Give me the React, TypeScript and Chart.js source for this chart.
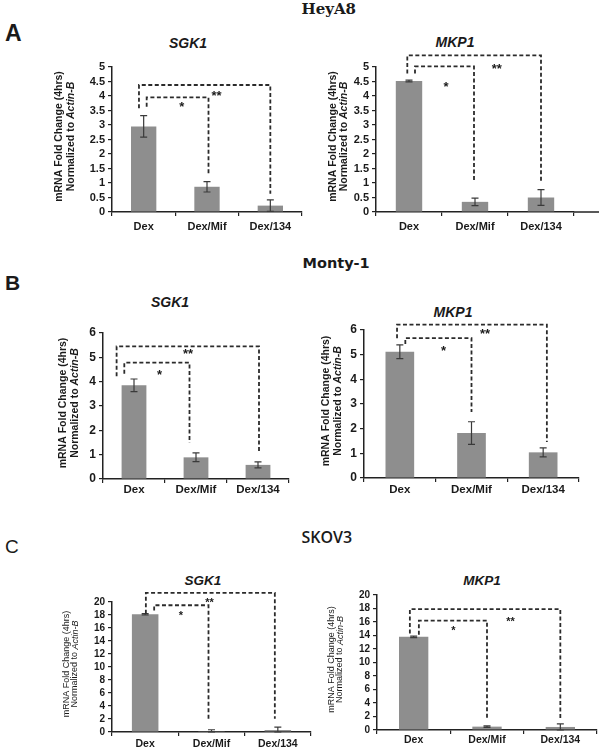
import React, { useEffect, useRef } from 'react';
import { Chart, registerables } from 'chart.js';

Chart.register(...registerables);
Chart.defaults.font.family = '"Liberation Sans", Arial, sans-serif';

// ---------- data ----------
const categories = ['Dex', 'Dex/Mif', 'Dex/134'];

const heyA8Sgk1Values = [2.95, 0.87, 0.22];
const heyA8Sgk1Errors = [0.37, 0.18, 0.2];
const heyA8Mkp1Values = [4.52, 0.35, 0.5];
const heyA8Mkp1Errors = [0.03, 0.13, 0.27];

const monty1Sgk1Values = [3.85, 0.89, 0.58];
const monty1Sgk1Errors = [0.26, 0.18, 0.12];
const monty1Mkp1Values = [5.12, 1.82, 1.04];
const monty1Mkp1Errors = [0.28, 0.46, 0.18];

const skov3Sgk1Values = [18.1, 0.05, 0.3];
const skov3Sgk1Errors = [0.1, 0.3, 0.45];
const skov3Mkp1Values = [13.8, 0.5, 0.45];
const skov3Mkp1Errors = [0.12, 0.12, 0.45];

const heyA8YMax = 5;
const heyA8YStep = 0.5;
const monty1YMax = 6;
const monty1YStep = 1;
const skov3YMax = 20;
const skov3YStep = 2;

const yTitleLine1 = 'mRNA Fold Change (4hrs)';
const yTitleLine2a = 'Normalized to ';
const yTitleLine2b = 'Actin-B';

// significance brackets (data units): level, drop ends, label position
type Bracket = { from: number; to: number; level: number; leftEnd: number; rightEnd: number; label: string; labelX: number; labelY: number };

const heyA8Sgk1Brackets: Bracket[] = [
  { from: 0, to: 1, level: 3.95, leftEnd: 3.63, rightEnd: 1.32, label: '*', labelX: 0.6, labelY: 3.75 },
  { from: 0, to: 2, level: 4.38, leftEnd: 3.58, rightEnd: 0.63, label: '**', labelX: 1.15, labelY: 4.13 },
];
const heyA8Mkp1Brackets: Bracket[] = [
  { from: 0, to: 1, level: 5.02, leftEnd: 4.78, rightEnd: 1.03, label: '*', labelX: 0.56, labelY: 4.44 },
  { from: 0, to: 2, level: 5.4, leftEnd: 4.78, rightEnd: 1.03, label: '**', labelX: 1.33, labelY: 5.06 },
];
const monty1Sgk1Brackets: Bracket[] = [
  { from: 0, to: 1, level: 4.78, leftEnd: 4.33, rightEnd: 1.49, label: '*', labelX: 0.41, labelY: 4.4 },
  { from: 0, to: 2, level: 5.45, leftEnd: 4.22, rightEnd: 1.12, label: '**', labelX: 0.87, labelY: 5.29 },
];
const monty1Mkp1Brackets: Bracket[] = [
  { from: 0, to: 1, level: 5.67, leftEnd: 5.43, rightEnd: 2.68, label: '*', labelX: 0.61, labelY: 5.3 },
  { from: 0, to: 2, level: 6.22, leftEnd: 5.67, rightEnd: 1.46, label: '**', labelX: 1.19, labelY: 6.0 },
];
const skov3Sgk1Brackets: Bracket[] = [
  { from: 0, to: 1, level: 19.5, leftEnd: 18.7, rightEnd: 2.05, label: '*', labelX: 0.54, labelY: 18.3 },
  { from: 0, to: 2, level: 21.4, leftEnd: 18.2, rightEnd: 2.05, label: '**', labelX: 0.97, labelY: 20.3 },
];
const skov3Mkp1Brackets: Bracket[] = [
  { from: 0, to: 1, level: 16.2, leftEnd: 14.1, rightEnd: 1.73, label: '*', labelX: 0.54, labelY: 15.1 },
  { from: 0, to: 2, level: 17.9, leftEnd: 14.3, rightEnd: 1.73, label: '**', labelX: 1.32, labelY: 16.5 },
];

// ---------- styles / layout ----------
const BAR = '#8e8e8e';
const AXIS = '#222';
const TEXT = '#1a1a1a';
const DASH = '#2b2b2b';
const PAD_L = 75;
const PAD_T = 40;
const PAD_B = 25;

type Panel = {
  values: number[]; errors: number[]; yMax: number; yStep: number; brackets: Bracket[];
  box: { L: number; R: number; T: number; B: number };
  padR: number; tickSize: number; xSize: number; xPad: number;
  titleSize: number; titleWeight: string; titleOffsets: [number, number];
  starSize: number; bracketOffsets: [number, number][]; axisExtend: number;
};

const panels: Panel[] = [
  {
    values: heyA8Sgk1Values, errors: heyA8Sgk1Errors, yMax: heyA8YMax, yStep: heyA8YStep, brackets: heyA8Sgk1Brackets,
    box: { L: 112, R: 302, T: 67, B: 212 }, padR: 6, tickSize: 11, xSize: 11, xPad: 4,
    titleSize: 10.5, titleWeight: 'bold', titleOffsets: [-53, -41], starSize: 13,
    bracketOffsets: [[3, 1.5], [-4.7, 0]], axisExtend: 0,
  },
  {
    values: heyA8Mkp1Values, errors: heyA8Mkp1Errors, yMax: heyA8YMax, yStep: heyA8YStep, brackets: heyA8Mkp1Brackets,
    box: { L: 376, R: 574, T: 67, B: 212 }, padR: 28, tickSize: 11, xSize: 11, xPad: 4,
    titleSize: 10.5, titleWeight: 'bold', titleOffsets: [-43, -32], starSize: 13,
    bracketOffsets: [[6, -1], [-1.7, 0]], axisExtend: 25,
  },
  {
    values: monty1Sgk1Values, errors: monty1Sgk1Errors, yMax: monty1YMax, yStep: monty1YStep, brackets: monty1Sgk1Brackets,
    box: { L: 103, R: 289, T: 333, B: 479 }, padR: 6, tickSize: 12, xSize: 11.5, xPad: 0,
    titleSize: 10.5, titleWeight: 'bold', titleOffsets: [-40, -28], starSize: 13,
    bracketOffsets: [[-9.7, -6.5], [-17.4, 1]], axisExtend: 0,
  },
  {
    values: monty1Mkp1Values, errors: monty1Mkp1Errors, yMax: monty1YMax, yStep: monty1YStep, brackets: monty1Mkp1Brackets,
    box: { L: 364, R: 579, T: 330, B: 478 }, padR: 6, tickSize: 12, xSize: 11.5, xPad: 1,
    titleSize: 10.5, titleWeight: 'bold', titleOffsets: [-38, -26], starSize: 13,
    bracketOffsets: [[5.5, 0], [-2.8, 3.7]], axisExtend: 0,
  },
  {
    values: skov3Sgk1Values, errors: skov3Sgk1Errors, yMax: skov3YMax, yStep: skov3YStep, brackets: skov3Sgk1Brackets,
    box: { L: 112, R: 311, T: 602, B: 732 }, padR: 6, tickSize: 10, xSize: 10.5, xPad: 2,
    titleSize: 9, titleWeight: 'normal', titleOffsets: [-45, -37], starSize: 11,
    bracketOffsets: [[9, -3], [0.7, -3]], axisExtend: 0,
  },
  {
    values: skov3Mkp1Values, errors: skov3Mkp1Errors, yMax: skov3YMax, yStep: skov3YStep, brackets: skov3Mkp1Brackets,
    box: { L: 377, R: 597, T: 595, B: 730 }, padR: 6, tickSize: 10, xSize: 10.5, xPad: 0,
    titleSize: 9, titleWeight: 'normal', titleOffsets: [-45, -37], starSize: 11,
    bracketOffsets: [[5.2, 0], [-3.8, 0]], axisExtend: 0,
  },
];

const FONT = '"Liberation Sans", Arial, sans-serif';

function makeAnnotations(p: Panel) {
  return {
    id: 'figureAnnotations',
    afterDatasetsDraw(chart: any) {
      const { ctx, scales } = chart;
      const x = scales.x;
      const y = scales.y;
      ctx.save();
      ctx.strokeStyle = '#3a3a3a';
      ctx.lineWidth = 1.2;
      p.values.forEach((v, i) => {
        const cx = x.getPixelForValue(i);
        const top = y.getPixelForValue(v + p.errors[i]);
        const bot = y.getPixelForValue(Math.max(0, v - p.errors[i]));
        ctx.beginPath();
        ctx.moveTo(cx, top);
        ctx.lineTo(cx, bot);
        ctx.moveTo(cx - 3.5, top);
        ctx.lineTo(cx + 3.5, top);
        ctx.moveTo(cx - 3.5, bot);
        ctx.lineTo(cx + 3.5, bot);
        ctx.stroke();
      });
      ctx.restore();
    },
    afterDraw(chart: any) {
      const { ctx, scales, chartArea } = chart;
      const x = scales.x;
      const y = scales.y;
      ctx.save();
      if (p.axisExtend > 0) {
        ctx.strokeStyle = AXIS;
        ctx.lineWidth = 1.5;
        ctx.beginPath();
        ctx.moveTo(chartArea.right, chartArea.bottom);
        ctx.lineTo(chartArea.right + p.axisExtend, chartArea.bottom);
        ctx.stroke();
      }
      ctx.strokeStyle = DASH;
      ctx.lineWidth = 1.8;
      ctx.setLineDash([4, 2.5]);
      p.brackets.forEach((b, k) => {
        const off = p.bracketOffsets[k];
        const xl = x.getPixelForValue(b.from) + off[0];
        const xr = x.getPixelForValue(b.to) + off[1];
        const yl = y.getPixelForValue(b.level);
        ctx.beginPath();
        ctx.moveTo(xl, y.getPixelForValue(b.leftEnd));
        ctx.lineTo(xl, yl);
        ctx.lineTo(xr, yl);
        ctx.lineTo(xr, y.getPixelForValue(b.rightEnd));
        ctx.stroke();
      });
      ctx.setLineDash([]);
      ctx.fillStyle = TEXT;
      ctx.font = `bold ${p.starSize}px ${FONT}`;
      ctx.textAlign = 'center';
      ctx.textBaseline = 'alphabetic';
      p.brackets.forEach((b) => {
        const lx = x.getPixelForValue(b.labelX);
        const ly = y.getPixelForValue(b.labelY);
        ctx.fillText(b.label, lx, ly + 0.58 * p.starSize);
      });
      const cy = (chartArea.top + chartArea.bottom) / 2 - 3;
      ctx.fillStyle = TEXT;
      ctx.textBaseline = 'middle';
      ctx.textAlign = 'left';
      const f1 = `${p.titleWeight} ${p.titleSize}px ${FONT}`;
      const f2 = `italic ${p.titleWeight} ${p.titleSize}px ${FONT}`;
      ctx.save();
      ctx.translate(chartArea.left + p.titleOffsets[0], cy);
      ctx.rotate(-Math.PI / 2);
      ctx.font = f1;
      const w1 = ctx.measureText(yTitleLine1).width;
      ctx.fillText(yTitleLine1, -w1 / 2, 0);
      ctx.restore();
      ctx.save();
      ctx.translate(chartArea.left + p.titleOffsets[1], cy);
      ctx.rotate(-Math.PI / 2);
      ctx.font = f1;
      const wa = ctx.measureText(yTitleLine2a).width;
      ctx.font = f2;
      const wb = ctx.measureText(yTitleLine2b).width;
      const start = -(wa + wb) / 2;
      ctx.font = f1;
      ctx.fillText(yTitleLine2a, start, 0);
      ctx.font = f2;
      ctx.fillText(yTitleLine2b, start + wa, 0);
      ctx.restore();
      ctx.restore();
    },
  };
}

function PanelChart({ p }: { p: Panel }) {
  const ref = useRef<HTMLCanvasElement>(null);
  const W = p.box.R - p.box.L + PAD_L + p.padR;
  const H = p.box.B - p.box.T + PAD_T + PAD_B;
  useEffect(() => {
    const chart = new Chart(ref.current as HTMLCanvasElement, {
      type: 'bar',
      data: {
        labels: categories,
        datasets: [{ data: p.values, backgroundColor: BAR, borderWidth: 0, barPercentage: 0.4, categoryPercentage: 1 }],
      },
      options: {
        responsive: false,
        animation: false,
        devicePixelRatio: 1,
        layout: { padding: { left: 0, top: PAD_T, right: p.padR, bottom: 0 } },
        plugins: { legend: { display: false }, tooltip: { enabled: false }, title: { display: false } },
        scales: {
          x: {
            type: 'category',
            offset: true,
            grid: { offset: true, drawOnChartArea: false, drawTicks: true, tickLength: 4, color: AXIS, lineWidth: 1.2 },
            border: { display: true, color: AXIS, width: 1.5 },
            ticks: { color: TEXT, font: { size: p.xSize, weight: 'bold' }, padding: p.xPad, maxRotation: 0, autoSkip: false },
            afterFit: (s: any) => { s.height = PAD_B; },
          },
          y: {
            min: 0,
            max: p.yMax,
            grid: { drawOnChartArea: false, drawTicks: true, tickLength: 4, color: AXIS, lineWidth: 1.2 },
            border: { display: true, color: AXIS, width: 1.5 },
            ticks: {
              stepSize: p.yStep,
              autoSkip: false,
              color: TEXT,
              font: { size: p.tickSize, weight: 'bold' },
              padding: 3,
              callback: (v: any) => String(Math.round(Number(v) * 100) / 100),
            },
            afterFit: (s: any) => { s.width = PAD_L; },
          },
        },
      } as any,
      plugins: [makeAnnotations(p)],
    });
    return () => chart.destroy();
  }, []);
  return (
    <canvas
      ref={ref}
      width={W}
      height={H}
      style={{ position: 'absolute', left: p.box.L - PAD_L, top: p.box.T - PAD_T, width: W, height: H }}
    />
  );
}

type Txt = { text: string; x: number; base: number; size: number; family: string; weight?: string; italic?: boolean; center?: boolean };

const texts: Txt[] = [
  { text: 'A', x: 5, base: 41.5, size: 23, family: FONT, weight: 'bold' },
  { text: 'B', x: 5, base: 290, size: 21, family: FONT, weight: 'bold' },
  { text: 'C', x: 5, base: 553, size: 19, family: FONT, weight: 'normal' },
  { text: 'HeyA8', x: 301.5, base: 14.5, size: 15, family: '"DejaVu Serif", serif', weight: 'bold' },
  { text: 'Monty-1', x: 302.5, base: 268, size: 14.5, family: '"DejaVu Sans", sans-serif', weight: 'bold' },
  { text: 'SKOV3', x: 301.5, base: 542.5, size: 16, family: '"Open Sans", sans-serif', weight: '600' },
  { text: 'SGK1', x: 188, base: 48, size: 14, family: FONT, weight: 'bold', italic: true, center: true },
  { text: 'MKP1', x: 455, base: 47, size: 14, family: FONT, weight: 'bold', italic: true, center: true },
  { text: 'SGK1', x: 170, base: 307, size: 14, family: FONT, weight: 'bold', italic: true, center: true },
  { text: 'MKP1', x: 453, base: 317, size: 14, family: FONT, weight: 'bold', italic: true, center: true },
  { text: 'SGK1', x: 203, base: 585, size: 13.5, family: FONT, weight: 'bold', italic: true, center: true },
  { text: 'MKP1', x: 482, base: 585, size: 13.5, family: FONT, weight: 'bold', italic: true, center: true },
];

export default function App() {
  return (
    <div style={{ position: 'absolute', left: 0, top: 0, width: 601, height: 750, overflow: 'hidden', background: '#fff' }}>
      {texts.map((t, i) => (
        <div
          key={i}
          style={{
            position: 'absolute',
            left: t.x,
            top: t.base - 0.846 * t.size,
            lineHeight: `${t.size}px`,
            fontSize: t.size,
            fontFamily: t.family,
            fontWeight: t.weight as any,
            fontStyle: t.italic ? 'italic' : 'normal',
            color: TEXT,
            whiteSpace: 'nowrap',
            transform: t.center ? 'translateX(-50%)' : undefined,
          }}
        >
          {t.text}
        </div>
      ))}
      {panels.map((p, i) => (
        <PanelChart key={i} p={p} />
      ))}
    </div>
  );
}
